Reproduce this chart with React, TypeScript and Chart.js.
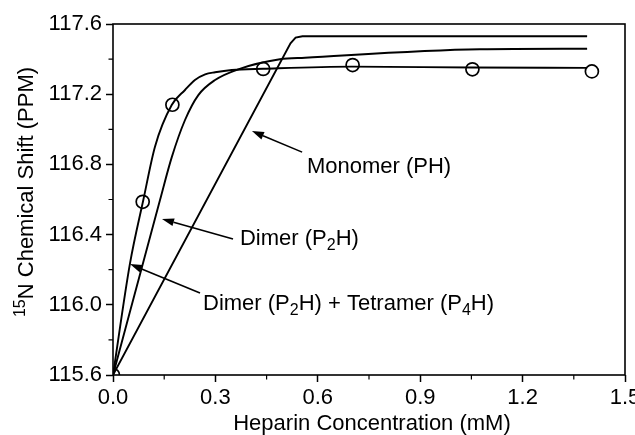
import { useEffect, useRef } from 'react';
import { Chart, registerables } from 'chart.js';

Chart.register(...registerables);

// Measured 15N shifts (open circles)
const observedConc = [0, 0.087, 0.174, 0.44, 0.702, 1.053, 1.403];
const observedShift = [115.6, 116.587, 117.14, 117.344, 117.366, 117.342, 117.33];

// Fitted binding curves
const dimerTetramerConc = [0, 0.0498, 0.0888, 0.123, 0.172, 0.211, 0.24, 0.27, 0.299, 0.348, 0.44, 0.7, 1.05, 1.389];
const dimerTetramerShift = [115.6, 116.236, 116.597, 116.901, 117.138, 117.224, 117.281, 117.313, 117.325, 117.338, 117.345, 117.357, 117.352, 117.35];

const dimerConc = [0, 0.1377, 0.172, 0.211, 0.25, 0.299, 0.367, 0.489, 0.5625, 1.075, 1.389];
const dimerShift = [115.6, 116.597, 116.84, 117.053, 117.195, 117.281, 117.342, 117.399, 117.408, 117.456, 117.459];

const monomerConc = [0, 0.52, 0.535, 0.555, 1.389];
const monomerShift = [115.6, 117.49, 117.522, 117.53, 117.53];

const xMajorTicks = [0, 0.3, 0.6, 0.9, 1.2, 1.5];
const xMinorTicks = [0.15, 0.45, 0.75, 1.05, 1.35];
const yMinorTicks = [115.8, 116.2, 116.6, 117.0, 117.4];

type Part = { t: string; k: 'n' | 'sub' | 'sup' };

// Callout labels, anchored in data units
const callouts: { parts: Part[]; text: [number, number]; tail: [number, number]; tip: [number, number] }[] = [
  {
    parts: [{ t: 'Monomer (PH)', k: 'n' }],
    text: [0.568, 116.751],
    tail: [0.554, 116.87],
    tip: [0.407, 116.99],
  },
  {
    parts: [
      { t: 'Dimer (P', k: 'n' },
      { t: '2', k: 'sub' },
      { t: 'H)', k: 'n' },
    ],
    text: [0.372, 116.341],
    tail: [0.3516, 116.375],
    tip: [0.1436, 116.489],
  },
  {
    parts: [
      { t: 'Dimer (P', k: 'n' },
      { t: '2', k: 'sub' },
      { t: 'H) + Tetramer (P', k: 'n' },
      { t: '4', k: 'sub' },
      { t: 'H)', k: 'n' },
    ],
    text: [0.2637, 115.97],
    tail: [0.2549, 116.067],
    tip: [0.0498, 116.232],
  },
];

const FAMILY = '"Liberation Sans", Arial, Helvetica, sans-serif';
const BASE = 22;
const SMALL = 16;

function toXY(a: number[], b: number[]) {
  return a.map((x, i) => ({ x, y: b[i] }));
}

function drawParts(ctx: CanvasRenderingContext2D, parts: Part[], x: number, y: number) {
  let cx = x;
  for (const p of parts) {
    const size = p.k === 'n' ? BASE : SMALL;
    ctx.font = `${size}px ${FAMILY}`;
    const dy = p.k === 'sub' ? 5 : p.k === 'sup' ? -8 : 0;
    ctx.fillText(p.t, cx, y + dy);
    cx += ctx.measureText(p.t).width;
  }
}

function partsWidth(ctx: CanvasRenderingContext2D, parts: Part[]) {
  let w = 0;
  for (const p of parts) {
    ctx.font = `${p.k === 'n' ? BASE : SMALL}px ${FAMILY}`;
    w += ctx.measureText(p.t).width;
  }
  return w;
}

const decorations = {
  id: 'decorations',
  afterDraw(chart: any) {
    const { ctx, chartArea: a, scales } = chart;
    const xs = scales.x;
    const ys = scales.y;
    ctx.save();
    ctx.strokeStyle = '#000';
    ctx.fillStyle = '#000';

    // frame
    ctx.lineWidth = 1.6;
    ctx.strokeRect(a.left, a.top, a.right - a.left, a.bottom - a.top);

    // minor ticks
    ctx.lineWidth = 1.2;
    ctx.beginPath();
    for (const v of xMinorTicks) {
      const px = xs.getPixelForValue(v);
      ctx.moveTo(px, a.bottom);
      ctx.lineTo(px, a.bottom + 4.5);
    }
    for (const v of yMinorTicks) {
      const py = ys.getPixelForValue(v);
      ctx.moveTo(a.left, py);
      ctx.lineTo(a.left - 4.5, py);
    }
    ctx.stroke();

    // axis titles
    ctx.textBaseline = 'alphabetic';
    ctx.textAlign = 'left';
    const xTitle: Part[] = [{ t: 'Heparin Concentration (mM)', k: 'n' }];
    const xw = partsWidth(ctx, xTitle);
    drawParts(ctx, xTitle, (a.left + a.right) / 2 + 3 - xw / 2, 430);

    const yTitle: Part[] = [
      { t: '15', k: 'sup' },
      { t: 'N Chemical Shift (PPM)', k: 'n' },
    ];
    const yw = partsWidth(ctx, yTitle);
    ctx.save();
    ctx.translate(33, 192);
    ctx.rotate(-Math.PI / 2);
    drawParts(ctx, yTitle, -yw / 2, 0);
    ctx.restore();

    // callouts with arrows
    for (const c of callouts) {
      const tx = xs.getPixelForValue(c.tail[0]);
      const ty = ys.getPixelForValue(c.tail[1]);
      const hx = xs.getPixelForValue(c.tip[0]);
      const hy = ys.getPixelForValue(c.tip[1]);
      const ang = Math.atan2(hy - ty, hx - tx);
      const len = 12;
      const half = 4;
      const bx = hx - Math.cos(ang) * len;
      const by = hy - Math.sin(ang) * len;
      ctx.lineWidth = 1.6;
      ctx.beginPath();
      ctx.moveTo(tx, ty);
      ctx.lineTo(bx, by);
      ctx.stroke();
      ctx.beginPath();
      ctx.moveTo(hx, hy);
      ctx.lineTo(bx + Math.sin(ang) * half, by - Math.cos(ang) * half);
      ctx.lineTo(bx - Math.sin(ang) * half, by + Math.cos(ang) * half);
      ctx.closePath();
      ctx.fill();

      drawParts(ctx, c.parts, xs.getPixelForValue(c.text[0]), ys.getPixelForValue(c.text[1]));
    }
    ctx.restore();
  },
};

export default function App() {
  const canvasRef = useRef<HTMLCanvasElement | null>(null);

  useEffect(() => {
    if (!canvasRef.current) return;
    const curve = (label: string, xsArr: number[], ysArr: number[], monotone: boolean) => ({
      label,
      data: toXY(xsArr, ysArr),
      showLine: true,
      borderColor: '#000',
      borderWidth: 1.9,
      pointRadius: 0,
      fill: false,
      tension: 0,
      cubicInterpolationMode: monotone ? 'monotone' : 'default',
    });

    const chart = new Chart(canvasRef.current, {
      type: 'scatter',
      data: {
        datasets: [
          {
            label: 'Observed',
            data: toXY(observedConc, observedShift),
            pointRadius: 6.5,
            pointBorderWidth: 1.7,
            borderColor: '#000',
            backgroundColor: 'rgba(0,0,0,0)',
            pointStyle: 'circle',
            showLine: false,
            clip: 0,
          } as any,
          curve('Dimer (P2H) + Tetramer (P4H)', dimerTetramerConc, dimerTetramerShift, true),
          curve('Dimer (P2H)', dimerConc, dimerShift, true),
          curve('Monomer (PH)', monomerConc, monomerShift, false),
        ],
      },
      options: {
        responsive: false,
        animation: false,
        events: [],
        layout: { padding: { left: 0, top: 24, right: 10, bottom: 0 } },
        plugins: {
          legend: { display: false },
          tooltip: { enabled: false },
        },
        scales: {
          x: {
            type: 'linear',
            min: 0,
            max: 1.5,
            afterFit(s: any) {
              s.height = 60;
              s.paddingLeft = 0;
              s.paddingRight = 0;
            },
            afterBuildTicks(s: any) {
              s.ticks = xMajorTicks.map((value) => ({ value }));
            },
            border: { display: false },
            grid: {
              drawOnChartArea: false,
              drawTicks: true,
              tickLength: 7,
              tickColor: '#000',
              tickWidth: 1.5,
            },
            ticks: {
              color: '#000',
              padding: 3,
              maxRotation: 0,
              font: { family: FAMILY, size: BASE },
              callback: (v: any) => Number(v).toFixed(1),
            },
          },
          y: {
            type: 'linear',
            min: 115.6,
            max: 117.6,
            afterFit(s: any) {
              s.width = 113;
              s.paddingTop = 0;
              s.paddingBottom = 0;
            },
            border: { display: false },
            grid: {
              drawOnChartArea: false,
              drawTicks: true,
              tickLength: 7,
              tickColor: '#000',
              tickWidth: 1.5,
            },
            ticks: {
              stepSize: 0.4,
              color: '#000',
              padding: 4,
              font: { family: FAMILY, size: BASE },
              callback: (v: any) => Number(v).toFixed(1),
            },
          },
        },
      },
      plugins: [decorations],
    });
    return () => chart.destroy();
  }, []);

  return (
    <div style={{ position: 'fixed', left: 0, top: 0, width: 635, height: 435, background: '#fff' }}>
      <canvas ref={canvasRef} width={635} height={435} style={{ display: 'block' }} />
    </div>
  );
}
